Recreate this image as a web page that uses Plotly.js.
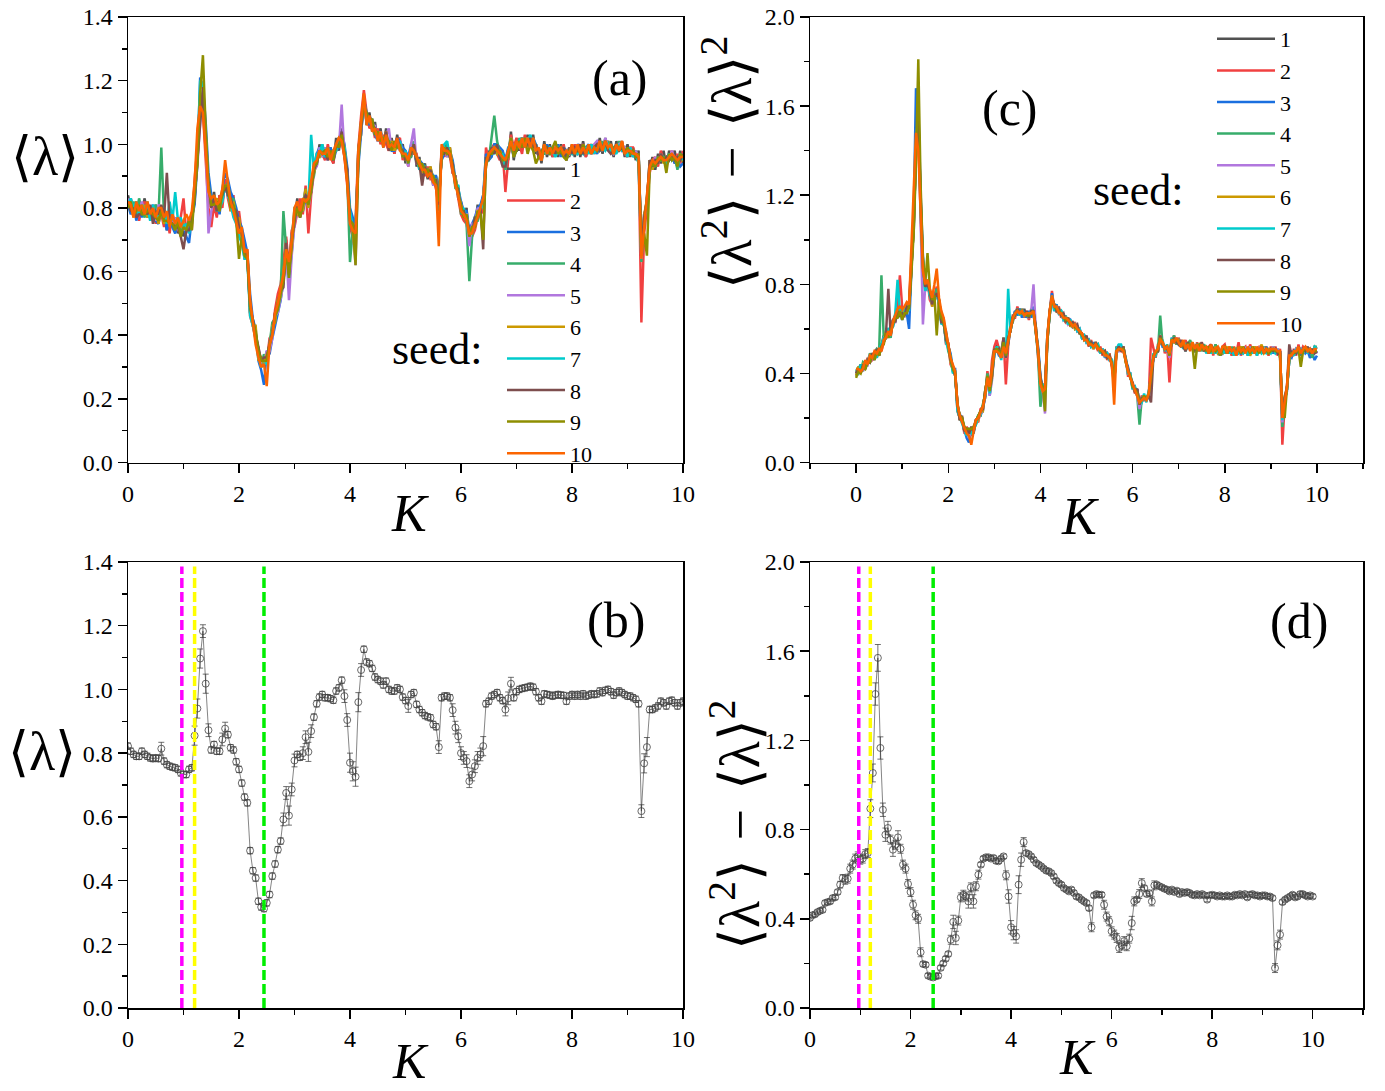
<!DOCTYPE html>
<html>
<head>
<meta charset="utf-8">
<script src="https://cdn.plot.ly/plotly-3.0.1.min.js"></script>
<style>html,body{margin:0;padding:0;background:#fff}#chart{width:1385px;height:1091px}</style>
</head>
<body>
<div id="chart"></div>
<script>
// ---------------- DATA ----------------
const K = [
0,0.05,0.1,0.15,0.2,0.25,0.3,0.35,0.4,0.45,0.5,0.55,0.6,0.65,0.7,0.75,0.8,0.85,0.9,0.95,
1,1.05,1.1,1.15,1.2,1.25,1.3,1.35,1.4,1.45,1.5,1.55,1.6,1.65,1.7,1.75,1.8,1.85,1.9,1.95,
2,2.05,2.1,2.15,2.2,2.25,2.3,2.35,2.4,2.45,2.5,2.55,2.6,2.65,2.7,2.75,2.8,2.85,2.9,2.95,
3,3.05,3.1,3.15,3.2,3.25,3.3,3.35,3.4,3.45,3.5,3.55,3.6,3.65,3.7,3.75,3.8,3.85,3.9,3.95,
4,4.05,4.1,4.15,4.2,4.25,4.3,4.35,4.4,4.45,4.5,4.55,4.6,4.65,4.7,4.75,4.8,4.85,4.9,4.95,
5,5.05,5.1,5.15,5.2,5.25,5.3,5.35,5.4,5.45,5.5,5.55,5.6,5.65,5.7,5.75,5.8,5.85,5.9,5.95,
6,6.05,6.1,6.15,6.2,6.25,6.3,6.35,6.4,6.45,6.5,6.55,6.6,6.65,6.7,6.75,6.8,6.85,6.9,6.95,
7,7.05,7.1,7.15,7.2,7.25,7.3,7.35,7.4,7.45,7.5,7.55,7.6,7.65,7.7,7.75,7.8,7.85,7.9,7.95,
8,8.05,8.1,8.15,8.2,8.25,8.3,8.35,8.4,8.45,8.5,8.55,8.6,8.65,8.7,8.75,8.8,8.85,8.9,8.95,
9,9.05,9.1,9.15,9.2,9.25,9.3,9.35,9.4,9.45,9.5,9.55,9.6,9.65,9.7,9.75,9.8,9.85,9.9,9.95,
10];

const seedNames = ['1','2','3','4','5','6','7','8','9','10'];

// panel (a): <lambda> for each seed
const lamSeed1 = [
0.84,0.80,0.78,0.80,0.82,0.79,0.83,0.77,0.80,0.76,0.81,0.77,0.80,0.79,0.73,0.78,0.74,0.77,0.72,0.75,
0.71,0.75,0.73,0.78,0.82,0.97,1.13,1.16,0.98,0.89,0.80,0.85,0.78,0.84,0.82,0.89,0.84,0.84,0.78,0.79,
0.73,0.72,0.64,0.66,0.47,0.45,0.39,0.36,0.30,0.33,0.31,0.38,0.40,0.47,0.48,0.55,0.57,0.70,0.58,0.72,
0.76,0.83,0.77,0.83,0.82,0.84,0.85,0.94,0.93,1.00,0.96,0.99,0.95,0.99,0.94,1.02,0.98,1.05,0.96,0.92,
0.74,0.77,0.70,0.99,1.03,1.15,1.06,1.10,1.04,1.07,1.01,1.05,0.99,1.05,0.98,1.02,0.97,1.03,0.98,1.00,
0.94,0.97,0.96,1.01,0.93,0.96,0.90,0.94,0.89,0.93,0.87,0.90,0.85,0.95,1.00,0.96,0.99,0.91,0.90,0.83,
0.82,0.77,0.80,0.69,0.75,0.74,0.81,0.78,0.84,0.93,0.98,0.96,1.00,0.97,0.99,0.95,0.96,0.95,1.04,0.95,
1.01,0.98,1.02,0.99,1.03,0.99,1.03,0.97,0.99,0.94,1.01,0.96,1.00,0.96,1.00,0.96,1.00,0.96,0.98,0.96,
1.00,0.96,1.00,0.96,1.01,0.96,1.00,0.97,1.00,0.97,1.02,0.97,1.02,0.98,1.01,0.96,1.01,0.98,1.01,0.96,
1.00,0.96,0.99,0.95,0.98,0.66,0.75,0.84,0.92,0.96,0.92,0.97,0.94,0.98,0.93,0.98,0.95,0.98,0.93,0.98,
0.94];
const lamSeed2 = [
0.80,0.83,0.79,0.81,0.76,0.80,0.82,0.78,0.77,0.80,0.75,0.79,0.78,0.74,0.78,0.72,0.79,0.73,0.73,0.77,
0.83,0.72,0.77,0.73,0.89,0.99,1.15,1.10,0.95,0.80,0.74,0.81,0.77,0.84,0.80,0.89,0.83,0.79,0.84,0.75,
0.79,0.71,0.65,0.67,0.46,0.43,0.38,0.34,0.32,0.31,0.31,0.39,0.40,0.48,0.53,0.56,0.63,0.71,0.61,0.73,
0.74,0.79,0.83,0.78,0.87,0.72,0.84,0.91,0.94,0.99,0.97,0.95,1.00,0.96,0.94,1.00,1.02,1.01,0.96,0.87,
0.74,0.71,0.76,0.99,1.09,1.17,1.10,1.05,1.06,1.02,1.05,1.00,1.03,1.00,0.98,1.01,0.97,1.01,1.02,0.95,
0.98,0.93,0.99,0.97,0.97,0.92,0.93,0.90,0.93,0.89,0.89,0.86,0.80,0.99,0.96,0.99,0.96,0.91,0.90,0.83,
0.78,0.76,0.75,0.70,0.71,0.73,0.77,0.78,0.79,0.99,0.95,0.99,1.00,0.97,0.95,0.98,0.85,0.95,1.03,0.99,
1.02,1.00,0.97,1.03,0.99,1.02,0.98,0.99,0.96,0.95,1.00,0.97,0.99,0.96,1.00,0.98,0.97,1.00,0.95,0.99,
0.97,1.00,0.97,0.99,1.00,0.96,0.99,1.00,0.97,1.00,1.01,0.98,1.00,1.01,0.98,0.97,1.00,0.98,1.01,0.97,
0.96,0.99,0.99,0.96,0.97,0.44,0.72,0.80,0.91,0.95,0.96,0.93,0.98,0.95,0.96,0.95,0.98,0.94,0.97,0.94,
0.98];
const lamSeed3 = [
0.81,0.78,0.81,0.76,0.80,0.77,0.81,0.78,0.79,0.81,0.76,0.75,0.79,0.79,0.73,0.77,0.74,0.72,0.75,0.72,
0.75,0.71,0.69,0.77,0.81,0.94,1.21,1.18,1.07,0.91,0.84,0.81,0.82,0.78,0.86,0.91,0.89,0.85,0.83,0.80,
0.76,0.74,0.70,0.66,0.53,0.45,0.42,0.32,0.29,0.244,0.35,0.34,0.39,0.43,0.48,0.51,0.57,0.65,0.59,0.66,
0.76,0.81,0.80,0.79,0.83,0.82,0.85,0.93,0.97,0.99,0.97,0.96,0.96,0.99,0.95,0.98,0.99,1.04,1.00,0.93,
0.80,0.77,0.74,0.93,1.04,1.14,1.10,1.06,1.08,1.03,1.01,1.04,1.00,1.01,1.01,0.98,0.98,1.02,1.01,0.99,
0.98,0.96,1.00,1.00,0.94,0.95,0.94,0.93,0.90,0.92,0.90,0.90,0.84,0.95,0.97,0.99,0.98,0.95,0.89,0.86,
0.82,0.79,0.79,0.73,0.75,0.77,0.80,0.81,0.84,0.97,0.95,0.96,1.00,1.00,0.99,0.98,0.95,0.99,1.00,0.96,
0.98,1.01,1.02,0.99,1.02,0.99,1.02,1.00,0.96,0.98,0.97,1.00,0.97,0.99,0.97,1.00,0.96,0.99,0.98,0.97,
0.99,0.97,1.00,0.99,0.97,0.99,1.00,0.97,0.99,0.97,1.00,0.98,1.01,0.99,1.00,0.97,1.00,0.98,1.00,0.97,
0.99,0.97,0.98,0.96,0.97,0.68,0.78,0.81,0.95,0.92,0.95,0.94,0.97,0.95,0.96,0.95,0.97,0.94,0.95,0.93,
0.94];
const lamSeed4 = [
0.82,0.79,0.82,0.78,0.83,0.79,0.77,0.82,0.78,0.79,0.81,0.78,0.99,0.77,0.78,0.75,0.78,0.74,0.77,0.73,
0.74,0.73,0.76,0.75,0.87,0.95,1.11,1.17,1.03,0.85,0.83,0.83,0.81,0.80,0.85,0.86,0.88,0.82,0.83,0.77,
0.73,0.72,0.65,0.66,0.47,0.44,0.40,0.35,0.31,0.34,0.32,0.37,0.44,0.45,0.51,0.53,0.79,0.67,0.63,0.69,
0.80,0.80,0.79,0.81,0.86,0.80,0.88,0.90,0.96,0.96,1.00,0.97,0.98,0.96,0.98,0.99,1.02,1.02,0.99,0.90,
0.63,0.73,0.70,0.98,1.06,1.13,1.07,1.08,1.05,1.05,1.03,1.04,1.00,1.03,0.99,1.01,0.98,1.01,0.99,0.98,
0.95,0.96,0.96,1.01,0.94,0.95,0.92,0.93,0.91,0.92,0.89,0.89,0.79,0.98,0.97,1.00,0.96,0.94,0.86,0.87,
0.78,0.79,0.75,0.57,0.71,0.76,0.76,0.80,0.80,0.95,0.95,1.03,1.09,1.01,0.97,0.97,0.92,0.98,1.02,0.98,
0.98,1.02,0.99,1.01,1.00,1.02,0.99,1.00,0.96,0.97,0.97,0.99,0.98,0.99,0.97,0.99,0.98,0.99,0.95,0.99,
0.97,0.99,0.97,0.99,0.98,0.99,0.97,1.00,0.98,1.00,0.98,1.01,0.98,1.01,0.98,0.99,0.98,1.01,0.98,0.99,
0.97,0.98,0.97,0.98,0.94,0.63,0.76,0.83,0.92,0.95,0.93,0.96,0.95,0.96,0.94,0.97,0.95,0.96,0.92,0.97,
0.96];
const lamSeed5 = [
0.83,0.80,0.80,0.79,0.79,0.82,0.78,0.81,0.77,0.80,0.76,0.81,0.80,0.78,0.77,0.76,0.75,0.77,0.73,0.76,
0.73,0.74,0.74,0.76,0.84,0.93,1.07,1.16,1.01,0.72,0.79,0.83,0.80,0.81,0.82,0.87,0.84,0.82,0.78,0.79,
0.72,0.71,0.64,0.64,0.49,0.43,0.39,0.36,0.30,0.31,0.35,0.35,0.39,0.46,0.47,0.51,0.56,0.67,0.51,0.65,
0.75,0.79,0.78,0.80,0.85,0.80,0.85,0.92,0.93,0.99,0.96,0.99,0.95,0.98,0.96,1.00,0.99,1.125,0.97,0.91,
0.75,0.74,0.62,0.96,1.05,1.13,1.07,1.09,1.05,1.06,1.01,1.04,1.00,1.03,1.05,0.98,1.01,0.99,1.01,0.97,
0.97,0.93,1.00,1.05,0.94,0.94,0.91,0.93,0.90,0.92,0.87,0.89,0.82,0.96,0.99,0.96,0.98,0.92,0.89,0.84,
0.81,0.78,0.78,0.68,0.75,0.75,0.80,0.79,0.83,0.94,0.97,0.97,0.99,0.98,0.98,0.95,0.95,0.96,1.02,0.97,
1.00,0.99,1.02,0.99,1.02,1.00,1.01,0.98,0.99,0.96,1.00,0.97,0.99,0.97,1.00,0.97,0.99,0.97,0.98,0.97,
0.99,0.97,1.00,0.98,1.00,0.97,0.99,0.98,1.00,1.01,0.99,0.98,1.02,0.99,0.98,0.97,0.99,1.00,0.98,0.99,
0.97,0.99,0.96,0.98,0.95,0.64,0.77,0.82,0.94,0.93,0.96,0.94,0.97,0.95,0.96,0.95,0.98,0.95,0.96,0.95,
0.97];
const lamSeed6 = [
0.81,0.81,0.77,0.80,0.79,0.78,0.81,0.77,0.80,0.76,0.79,0.75,0.80,0.75,0.77,0.76,0.75,0.74,0.74,0.74,
0.75,0.74,0.75,0.76,0.87,0.94,1.13,1.14,1.03,0.87,0.82,0.82,0.83,0.79,0.86,0.87,0.87,0.79,0.82,0.76,
0.77,0.70,0.67,0.65,0.50,0.43,0.43,0.32,0.33,0.31,0.34,0.36,0.43,0.44,0.51,0.52,0.60,0.67,0.61,0.67,
0.79,0.78,0.80,0.79,0.86,0.80,0.88,0.91,0.96,0.96,0.99,0.96,0.99,0.96,0.97,0.98,1.02,1.01,0.99,0.89,
0.78,0.73,0.64,0.97,1.05,1.14,1.08,1.09,1.06,1.05,1.02,1.03,1.01,1.04,0.99,1.01,0.98,1.01,0.99,0.98,
0.95,0.96,0.97,1.00,0.95,0.95,0.91,0.93,0.90,0.93,0.88,0.89,0.81,0.96,0.99,0.97,0.99,0.93,0.89,0.84,
0.81,0.77,0.78,0.71,0.74,0.74,0.79,0.79,0.83,0.93,0.97,0.97,0.99,0.97,0.98,0.95,0.95,0.96,1.02,0.96,
1.00,0.99,1.01,0.99,1.02,1.00,1.02,0.98,0.98,0.95,0.99,0.97,0.99,0.97,0.99,0.97,0.99,0.97,0.97,0.97,
0.99,0.97,0.99,0.97,1.00,0.97,0.99,0.98,0.99,0.98,1.00,0.98,1.01,0.99,1.00,0.97,1.00,0.98,1.00,0.97,
0.99,0.97,0.98,0.96,0.97,0.66,0.78,0.82,0.95,0.92,0.95,0.94,0.97,0.94,0.96,0.95,0.97,0.95,0.96,0.95,
0.95];
const lamSeed7 = [
0.81,0.83,0.80,0.82,0.78,0.81,0.79,0.80,0.76,0.81,0.77,0.78,0.79,0.80,0.75,0.82,0.76,0.85,0.76,0.77,
0.74,0.75,0.72,0.76,0.84,0.97,1.20,1.19,1.02,0.88,0.81,0.84,0.79,0.80,0.82,0.87,0.84,0.81,0.77,0.75,
0.71,0.69,0.64,0.64,0.46,0.43,0.39,0.33,0.30,0.31,0.31,0.37,0.42,0.46,0.48,0.53,0.57,0.68,0.58,0.71,
0.78,0.81,0.78,0.82,0.84,0.81,1.03,0.92,0.97,0.97,1.00,0.96,0.99,0.96,0.98,0.98,1.01,1.01,0.99,0.90,
0.79,0.74,0.75,0.95,1.06,1.11,1.09,1.07,1.07,1.03,1.04,1.01,1.02,1.01,1.01,0.99,1.00,0.99,1.01,0.96,
0.98,0.94,0.99,0.98,0.96,0.92,0.94,0.91,0.92,0.90,0.90,0.87,0.83,0.96,1.00,1.01,0.96,0.94,0.87,0.87,
0.79,0.80,0.76,0.72,0.72,0.77,0.77,0.80,0.81,0.96,0.95,0.98,0.97,1.00,0.96,0.97,0.93,0.98,1.01,0.97,
0.98,1.01,1.02,0.99,1.01,1.03,0.99,1.00,0.97,0.98,0.99,0.97,0.99,0.98,0.96,0.98,0.99,0.97,0.96,0.98,
0.97,0.99,0.97,0.98,0.97,0.99,0.97,1.00,0.97,0.99,0.98,0.99,0.98,1.00,0.98,0.98,0.97,1.00,0.98,0.98,
0.96,0.99,0.96,0.97,0.94,0.65,0.76,0.82,0.92,0.94,0.93,0.96,0.95,0.96,0.93,0.97,0.95,0.96,0.93,0.97,
0.95];
const lamSeed8 = [
0.82,0.79,0.80,0.77,0.78,0.78,0.79,0.78,0.81,0.75,0.79,0.78,0.81,0.77,0.91,0.76,0.75,0.74,0.74,0.71,
0.67,0.73,0.73,0.76,0.83,0.95,1.09,1.18,1.00,0.88,0.80,0.83,0.79,0.82,0.84,0.87,0.84,0.83,0.80,0.79,
0.74,0.72,0.66,0.65,0.49,0.45,0.41,0.36,0.32,0.33,0.33,0.37,0.41,0.47,0.50,0.54,0.55,0.69,0.59,0.70,
0.76,0.81,0.77,0.82,0.84,0.83,0.86,0.92,0.94,0.98,0.97,0.98,0.95,0.98,0.95,1.00,0.99,1.04,0.97,0.92,
0.76,0.75,0.72,0.96,1.05,1.13,1.08,1.09,1.06,1.05,1.02,1.03,1.00,1.04,0.98,1.00,0.99,1.02,0.99,0.98,
0.95,0.96,0.97,1.00,0.94,0.94,0.87,0.93,0.90,0.92,0.88,0.89,0.81,0.97,0.97,0.99,0.96,0.94,0.87,0.86,
0.79,0.79,0.76,0.73,0.72,0.77,0.77,0.80,0.67,0.96,0.95,0.99,0.97,1.00,0.96,0.93,0.93,0.98,1.00,0.98,
0.98,1.01,0.99,1.01,1.00,1.02,0.99,1.00,0.96,0.98,0.98,0.99,0.97,0.99,0.97,0.99,0.97,0.99,0.95,0.99,
0.97,0.99,0.98,1.00,0.97,0.98,0.99,0.97,0.99,1.00,0.98,0.99,1.01,0.98,0.97,0.98,1.00,0.98,0.99,0.97,
0.99,0.97,0.98,0.96,0.97,0.67,0.77,0.82,0.95,0.93,0.95,0.94,0.97,0.95,0.96,0.95,0.97,0.95,0.96,0.95,
0.97];
const lamSeed9 = [
0.80,0.82,0.78,0.79,0.81,0.78,0.78,0.79,0.79,0.78,0.77,0.76,0.79,0.76,0.76,0.75,0.75,0.73,0.76,0.71,
0.74,0.73,0.76,0.73,0.84,0.94,1.16,1.28,1.05,0.87,0.81,0.81,0.82,0.79,0.85,0.87,0.87,0.80,0.81,0.76,
0.64,0.71,0.65,0.64,0.49,0.44,0.41,0.35,0.32,0.32,0.32,0.37,0.40,0.46,0.48,0.53,0.57,0.67,0.58,0.69,
0.77,0.80,0.77,0.81,0.83,0.81,0.85,0.93,0.94,0.98,0.97,0.98,0.96,0.98,0.95,1.00,0.99,1.03,0.97,0.89,
0.76,0.75,0.62,0.94,1.07,1.12,1.10,1.07,1.08,1.03,1.04,1.01,1.02,1.02,1.01,0.98,1.01,0.99,1.00,0.96,
0.97,0.94,0.99,0.98,0.96,0.93,0.94,0.91,0.92,0.90,0.90,0.87,0.82,0.96,0.99,0.97,0.98,0.92,0.89,0.84,
0.81,0.77,0.78,0.71,0.74,0.74,0.79,0.78,0.70,0.94,0.97,0.97,0.99,0.98,0.98,0.95,0.95,0.96,1.02,0.96,
0.98,1.01,0.99,1.02,0.97,1.00,0.98,0.94,0.96,0.97,1.00,0.98,0.97,0.99,1.01,0.97,0.98,0.96,0.95,0.98,
0.99,0.97,0.99,0.97,1.00,0.97,0.99,0.97,0.99,0.98,1.00,0.98,1.01,0.99,1.00,0.97,1.00,0.98,1.00,0.97,
0.99,0.97,0.98,0.96,0.97,0.65,0.72,0.65,0.92,0.94,0.93,0.96,0.95,0.96,0.91,0.97,0.95,0.96,0.93,0.97,
0.96];
const lamSeed10 = [
0.82,0.81,0.77,0.82,0.79,0.81,0.78,0.82,0.78,0.80,0.77,0.80,0.80,0.77,0.79,0.74,0.78,0.75,0.77,0.74,
0.76,0.78,0.76,0.79,0.88,1.05,1.12,1.10,0.98,0.85,0.83,0.84,0.81,0.82,0.86,0.95,0.88,0.82,0.79,0.75,
0.72,0.74,0.66,0.67,0.51,0.44,0.37,0.33,0.30,0.31,0.24,0.37,0.40,0.47,0.50,0.55,0.59,0.67,0.63,0.70,
0.80,0.82,0.79,0.83,0.82,0.83,0.88,0.94,0.95,0.98,0.97,0.97,0.99,0.95,0.98,1.00,1.02,1.01,0.96,0.88,
0.75,0.73,0.72,0.98,1.08,1.16,1.06,1.09,1.04,1.05,1.01,1.04,0.99,1.03,0.99,1.00,0.99,1.02,0.98,0.97,
0.97,0.95,0.99,0.98,0.96,0.94,0.92,0.92,0.90,0.91,0.88,0.87,0.68,1.00,0.98,0.98,0.97,0.92,0.87,0.84,
0.79,0.78,0.76,0.72,0.72,0.75,0.77,0.80,0.83,0.94,0.97,0.98,0.99,0.98,0.97,0.96,0.95,0.98,1.01,0.98,
1.01,0.99,1.02,0.99,1.02,0.99,1.02,0.98,0.99,0.95,1.00,0.97,0.99,0.97,0.99,0.98,0.99,0.97,0.98,0.97,
1.00,0.97,1.00,0.97,0.99,0.97,1.00,0.97,0.99,0.98,1.01,0.98,1.01,0.99,1.00,0.97,1.00,0.98,1.01,0.97,
0.98,0.98,0.97,0.97,0.96,0.64,0.75,0.84,0.93,0.95,0.94,0.95,0.96,0.95,0.95,0.96,0.97,0.96,0.95,0.96,
0.96];

// panel (c): <lambda^2> - <lambda>^2 for each seed
const varSeed1 = [
0.40,0.42,0.44,0.41,0.45,0.44,0.47,0.49,0.46,0.51,0.48,0.52,0.57,0.56,0.59,0.58,0.63,0.66,0.65,0.70,
0.66,0.67,0.71,0.68,0.87,1.07,1.38,1.55,1.19,0.91,0.77,0.81,0.75,0.73,0.72,0.77,0.73,0.64,0.63,0.55,
0.53,0.46,0.43,0.39,0.27,0.19,0.20,0.14,0.15,0.12,0.16,0.13,0.19,0.20,0.23,0.23,0.32,0.37,0.33,0.39,
0.48,0.53,0.49,0.50,0.52,0.48,0.54,0.61,0.63,0.68,0.67,0.69,0.66,0.69,0.65,0.67,0.66,0.69,0.58,0.51,
0.38,0.33,0.33,0.54,0.67,0.73,0.71,0.68,0.69,0.66,0.66,0.63,0.65,0.61,0.63,0.60,0.61,0.58,0.58,0.55,
0.56,0.53,0.54,0.51,0.54,0.51,0.51,0.49,0.50,0.47,0.48,0.44,0.37,0.49,0.52,0.50,0.52,0.45,0.42,0.38,
0.35,0.32,0.32,0.26,0.29,0.29,0.29,0.30,0.39,0.47,0.50,0.50,0.57,0.53,0.52,0.51,0.49,0.54,0.56,0.54,
0.55,0.52,0.54,0.51,0.54,0.51,0.54,0.50,0.53,0.51,0.53,0.50,0.52,0.49,0.52,0.49,0.52,0.49,0.50,0.49,
0.52,0.49,0.51,0.50,0.51,0.49,0.51,0.49,0.51,0.50,0.51,0.50,0.51,0.50,0.51,0.50,0.52,0.49,0.51,0.49,
0.51,0.50,0.51,0.49,0.50,0.19,0.28,0.33,0.46,0.50,0.48,0.51,0.50,0.51,0.49,0.52,0.50,0.51,0.49,0.51,
0.49];
const varSeed2 = [
0.41,0.40,0.43,0.44,0.42,0.47,0.45,0.46,0.50,0.47,0.52,0.50,0.54,0.57,0.60,0.58,0.64,0.66,0.69,0.84,
0.70,0.66,0.69,0.72,0.91,1.10,1.45,1.50,1.10,0.85,0.81,0.82,0.73,0.71,0.75,0.79,0.69,0.63,0.65,0.53,
0.54,0.44,0.42,0.41,0.23,0.20,0.20,0.13,0.16,0.14,0.12,0.16,0.19,0.18,0.24,0.25,0.29,0.41,0.33,0.46,
0.52,0.55,0.51,0.50,0.56,0.35,0.52,0.62,0.65,0.65,0.70,0.66,0.69,0.65,0.68,0.64,0.69,0.66,0.61,0.47,
0.34,0.35,0.33,0.57,0.68,0.77,0.69,0.68,0.70,0.65,0.67,0.63,0.64,0.62,0.61,0.63,0.59,0.59,0.57,0.56,
0.56,0.52,0.55,0.51,0.53,0.50,0.52,0.48,0.50,0.46,0.49,0.43,0.35,0.52,0.51,0.50,0.52,0.47,0.39,0.39,
0.35,0.31,0.33,0.26,0.30,0.28,0.29,0.29,0.56,0.51,0.47,0.53,0.54,0.55,0.49,0.53,0.36,0.53,0.57,0.53,
0.56,0.52,0.52,0.55,0.51,0.54,0.51,0.50,0.54,0.50,0.54,0.51,0.50,0.52,0.53,0.48,0.53,0.50,0.48,0.52,
0.53,0.49,0.52,0.48,0.52,0.49,0.54,0.48,0.51,0.52,0.48,0.53,0.50,0.51,0.48,0.52,0.52,0.49,0.52,0.48,
0.52,0.49,0.52,0.48,0.51,0.08,0.26,0.34,0.49,0.47,0.51,0.48,0.53,0.48,0.52,0.51,0.51,0.50,0.49,0.52,
0.51];
const varSeed3 = [
0.39,0.42,0.41,0.44,0.42,0.45,0.46,0.47,0.47,0.50,0.49,0.53,0.54,0.59,0.56,0.60,0.61,0.65,0.66,0.69,
0.64,0.68,0.67,0.60,0.86,1.11,1.68,1.60,1.21,0.93,0.79,0.80,0.76,0.73,0.73,0.78,0.72,0.67,0.62,0.59,
0.52,0.49,0.42,0.42,0.24,0.22,0.18,0.15,0.11,0.09,0.15,0.14,0.17,0.21,0.21,0.24,0.29,0.38,0.30,0.40,
0.49,0.51,0.48,0.48,0.52,0.49,0.53,0.60,0.64,0.68,0.66,0.69,0.65,0.68,0.65,0.68,0.65,0.70,0.59,0.52,
0.39,0.33,0.34,0.54,0.67,0.76,0.69,0.71,0.67,0.68,0.65,0.65,0.63,0.64,0.61,0.62,0.60,0.60,0.57,0.57,
0.54,0.55,0.52,0.54,0.52,0.52,0.49,0.51,0.47,0.49,0.46,0.46,0.38,0.49,0.53,0.50,0.52,0.46,0.43,0.38,
0.35,0.32,0.33,0.27,0.29,0.29,0.28,0.30,0.40,0.46,0.50,0.50,0.56,0.52,0.52,0.50,0.49,0.54,0.55,0.54,
0.55,0.52,0.54,0.50,0.54,0.51,0.53,0.50,0.53,0.50,0.53,0.50,0.52,0.49,0.52,0.49,0.52,0.50,0.50,0.49,
0.52,0.49,0.51,0.49,0.51,0.48,0.51,0.49,0.50,0.50,0.51,0.50,0.51,0.49,0.51,0.50,0.51,0.49,0.52,0.49,
0.51,0.49,0.51,0.49,0.50,0.20,0.29,0.32,0.48,0.47,0.50,0.49,0.52,0.48,0.51,0.49,0.50,0.47,0.49,0.46,
0.48];
const varSeed4 = [
0.41,0.43,0.41,0.45,0.44,0.45,0.49,0.47,0.48,0.51,0.50,0.84,0.56,0.58,0.59,0.56,0.64,0.63,0.69,0.66,
0.67,0.67,0.70,0.69,0.91,1.03,1.40,1.56,1.15,0.91,0.78,0.82,0.75,0.72,0.73,0.78,0.71,0.65,0.62,0.58,
0.50,0.47,0.41,0.40,0.25,0.21,0.19,0.16,0.13,0.15,0.14,0.15,0.17,0.21,0.21,0.26,0.30,0.40,0.31,0.41,
0.51,0.50,0.52,0.47,0.56,0.48,0.56,0.59,0.65,0.66,0.69,0.66,0.69,0.66,0.67,0.65,0.68,0.67,0.59,0.48,
0.25,0.34,0.31,0.57,0.66,0.75,0.69,0.70,0.67,0.68,0.64,0.66,0.62,0.64,0.61,0.62,0.59,0.60,0.56,0.57,
0.54,0.55,0.52,0.53,0.52,0.53,0.49,0.51,0.48,0.49,0.46,0.46,0.36,0.52,0.50,0.52,0.50,0.47,0.40,0.40,
0.33,0.34,0.30,0.17,0.29,0.29,0.29,0.31,0.39,0.47,0.50,0.50,0.66,0.53,0.52,0.51,0.49,0.54,0.57,0.53,
0.55,0.52,0.54,0.50,0.53,0.55,0.51,0.50,0.53,0.52,0.50,0.53,0.51,0.49,0.52,0.50,0.53,0.50,0.48,0.52,
0.50,0.51,0.49,0.52,0.49,0.51,0.50,0.52,0.49,0.51,0.49,0.52,0.49,0.52,0.49,0.51,0.50,0.52,0.49,0.51,
0.49,0.52,0.49,0.51,0.48,0.16,0.27,0.33,0.46,0.50,0.48,0.51,0.50,0.51,0.49,0.52,0.50,0.51,0.47,0.52,
0.52];
const varSeed5 = [
0.40,0.41,0.43,0.42,0.45,0.44,0.48,0.46,0.49,0.48,0.51,0.51,0.56,0.57,0.58,0.57,0.63,0.63,0.68,0.67,
0.67,0.66,0.70,0.69,0.90,1.04,1.41,1.58,1.16,0.62,0.79,0.79,0.76,0.70,0.74,0.75,0.72,0.63,0.63,0.55,
0.53,0.45,0.43,0.39,0.26,0.19,0.20,0.14,0.14,0.11,0.15,0.14,0.19,0.19,0.22,0.23,0.31,0.37,0.30,0.37,
0.50,0.50,0.51,0.47,0.55,0.47,0.56,0.59,0.65,0.66,0.69,0.66,0.68,0.66,0.67,0.65,0.68,0.80,0.60,0.49,
0.37,0.32,0.22,0.56,0.65,0.75,0.68,0.70,0.67,0.67,0.64,0.65,0.62,0.63,0.61,0.62,0.59,0.60,0.56,0.57,
0.54,0.55,0.52,0.53,0.52,0.52,0.49,0.51,0.48,0.49,0.46,0.46,0.36,0.51,0.50,0.52,0.50,0.47,0.40,0.40,
0.33,0.34,0.30,0.24,0.29,0.29,0.29,0.30,0.39,0.47,0.49,0.50,0.57,0.53,0.52,0.51,0.47,0.56,0.54,0.56,
0.53,0.54,0.52,0.53,0.52,0.53,0.51,0.52,0.51,0.53,0.51,0.52,0.50,0.51,0.50,0.51,0.50,0.51,0.48,0.51,
0.50,0.51,0.49,0.51,0.49,0.51,0.49,0.51,0.49,0.52,0.49,0.52,0.49,0.52,0.49,0.52,0.50,0.51,0.49,0.51,
0.49,0.52,0.49,0.51,0.48,0.18,0.28,0.33,0.46,0.50,0.48,0.51,0.50,0.51,0.49,0.52,0.50,0.51,0.49,0.51,
0.49];
const varSeed6 = [
0.39,0.43,0.41,0.44,0.43,0.45,0.46,0.49,0.47,0.50,0.49,0.53,0.54,0.59,0.57,0.58,0.62,0.66,0.66,0.69,
0.66,0.69,0.68,0.71,0.87,1.06,1.42,1.56,1.17,0.88,0.79,0.80,0.77,0.70,0.74,0.76,0.72,0.63,0.63,0.55,
0.53,0.45,0.43,0.39,0.26,0.19,0.20,0.14,0.15,0.13,0.15,0.14,0.19,0.19,0.23,0.23,0.32,0.38,0.32,0.38,
0.51,0.50,0.51,0.47,0.55,0.47,0.56,0.59,0.65,0.66,0.69,0.67,0.68,0.66,0.67,0.65,0.68,0.67,0.61,0.49,
0.37,0.33,0.33,0.54,0.68,0.73,0.71,0.68,0.69,0.66,0.66,0.63,0.65,0.61,0.63,0.60,0.61,0.58,0.58,0.55,
0.56,0.53,0.54,0.51,0.54,0.51,0.51,0.49,0.50,0.47,0.48,0.44,0.37,0.49,0.52,0.50,0.52,0.45,0.42,0.38,
0.35,0.32,0.32,0.26,0.29,0.29,0.29,0.30,0.39,0.47,0.50,0.50,0.57,0.53,0.52,0.51,0.49,0.54,0.56,0.54,
0.55,0.52,0.54,0.51,0.54,0.51,0.54,0.50,0.53,0.51,0.53,0.50,0.52,0.49,0.52,0.49,0.52,0.49,0.50,0.49,
0.50,0.52,0.49,0.51,0.48,0.51,0.50,0.52,0.49,0.50,0.51,0.48,0.50,0.52,0.49,0.50,0.53,0.49,0.50,0.51,
0.50,0.51,0.50,0.50,0.47,0.21,0.30,0.33,0.47,0.49,0.49,0.50,0.51,0.50,0.50,0.51,0.51,0.50,0.50,0.50,
0.50];
const varSeed7 = [
0.41,0.40,0.44,0.42,0.45,0.46,0.45,0.48,0.49,0.47,0.51,0.53,0.56,0.56,0.60,0.60,0.61,0.67,0.82,0.68,
0.65,0.68,0.70,0.68,0.89,1.08,1.45,1.55,1.14,0.88,0.77,0.81,0.75,0.72,0.74,0.75,0.72,0.62,0.63,0.54,
0.51,0.48,0.40,0.41,0.23,0.20,0.18,0.14,0.12,0.14,0.13,0.16,0.17,0.21,0.22,0.25,0.30,0.39,0.31,0.40,
0.49,0.52,0.50,0.46,0.55,0.47,0.78,0.59,0.65,0.66,0.69,0.66,0.68,0.66,0.67,0.65,0.68,0.67,0.60,0.49,
0.35,0.35,0.31,0.57,0.65,0.75,0.68,0.70,0.67,0.68,0.64,0.65,0.62,0.64,0.61,0.62,0.59,0.60,0.56,0.57,
0.54,0.55,0.52,0.53,0.52,0.53,0.49,0.51,0.48,0.49,0.46,0.46,0.36,0.51,0.53,0.53,0.50,0.47,0.40,0.40,
0.33,0.34,0.30,0.28,0.27,0.31,0.27,0.32,0.37,0.49,0.48,0.52,0.54,0.55,0.50,0.53,0.48,0.56,0.54,0.55,
0.53,0.54,0.51,0.53,0.52,0.52,0.51,0.52,0.50,0.52,0.51,0.52,0.49,0.51,0.49,0.51,0.49,0.51,0.48,0.51,
0.49,0.51,0.49,0.51,0.48,0.51,0.49,0.50,0.49,0.51,0.48,0.51,0.49,0.51,0.48,0.51,0.49,0.50,0.49,0.50,
0.49,0.51,0.49,0.50,0.48,0.19,0.28,0.33,0.46,0.50,0.48,0.51,0.49,0.51,0.49,0.52,0.49,0.51,0.49,0.52,
0.51];
const varSeed8 = [
0.40,0.42,0.40,0.44,0.42,0.46,0.45,0.49,0.47,0.51,0.48,0.52,0.54,0.58,0.78,0.57,0.64,0.63,0.68,0.66,
0.67,0.66,0.70,0.69,0.87,1.06,1.40,1.57,1.18,0.88,0.79,0.80,0.77,0.71,0.74,0.76,0.73,0.63,0.63,0.55,
0.53,0.46,0.43,0.39,0.26,0.19,0.21,0.14,0.15,0.13,0.16,0.14,0.19,0.20,0.23,0.24,0.32,0.38,0.33,0.39,
0.51,0.50,0.51,0.47,0.56,0.47,0.56,0.59,0.66,0.66,0.69,0.67,0.68,0.66,0.68,0.65,0.68,0.68,0.61,0.49,
0.38,0.33,0.34,0.55,0.68,0.74,0.71,0.68,0.69,0.66,0.67,0.63,0.65,0.62,0.63,0.61,0.62,0.58,0.58,0.55,
0.57,0.53,0.54,0.52,0.54,0.51,0.51,0.49,0.50,0.47,0.48,0.44,0.38,0.50,0.52,0.50,0.52,0.46,0.42,0.38,
0.36,0.32,0.33,0.26,0.29,0.29,0.29,0.30,0.27,0.47,0.50,0.50,0.57,0.53,0.52,0.51,0.49,0.54,0.56,0.54,
0.53,0.55,0.52,0.50,0.54,0.51,0.52,0.50,0.53,0.51,0.54,0.50,0.52,0.49,0.53,0.51,0.50,0.52,0.48,0.51,
0.52,0.49,0.51,0.50,0.51,0.49,0.52,0.49,0.51,0.50,0.51,0.50,0.51,0.50,0.51,0.50,0.52,0.49,0.51,0.49,
0.51,0.50,0.51,0.49,0.50,0.20,0.29,0.34,0.53,0.48,0.50,0.49,0.52,0.49,0.51,0.50,0.52,0.49,0.51,0.49,
0.50];
const varSeed9 = [
0.38,0.41,0.40,0.43,0.42,0.45,0.45,0.48,0.46,0.50,0.48,0.52,0.53,0.58,0.56,0.59,0.61,0.65,0.65,0.68,
0.64,0.67,0.67,0.70,0.85,1.03,1.35,1.81,1.25,0.92,0.80,0.94,0.78,0.73,0.75,0.57,0.73,0.65,0.63,0.57,
0.52,0.47,0.42,0.40,0.26,0.21,0.20,0.16,0.15,0.15,0.15,0.16,0.19,0.21,0.23,0.25,0.31,0.39,0.32,0.40,
0.50,0.51,0.50,0.48,0.54,0.48,0.55,0.60,0.64,0.67,0.68,0.67,0.67,0.67,0.66,0.66,0.67,0.68,0.59,0.50,
0.36,0.34,0.23,0.55,0.66,0.74,0.70,0.69,0.68,0.67,0.65,0.64,0.64,0.62,0.62,0.61,0.60,0.59,0.57,0.56,
0.55,0.54,0.53,0.52,0.53,0.52,0.50,0.50,0.49,0.48,0.47,0.45,0.36,0.50,0.51,0.51,0.51,0.46,0.41,0.39,
0.34,0.33,0.31,0.27,0.28,0.30,0.28,0.31,0.38,0.48,0.49,0.51,0.56,0.54,0.51,0.52,0.48,0.55,0.55,0.55,
0.54,0.52,0.54,0.51,0.53,0.53,0.52,0.42,0.52,0.53,0.51,0.52,0.50,0.52,0.50,0.51,0.50,0.52,0.48,0.51,
0.52,0.49,0.51,0.50,0.51,0.49,0.51,0.49,0.52,0.50,0.51,0.49,0.52,0.50,0.51,0.49,0.52,0.50,0.51,0.49,
0.50,0.51,0.50,0.50,0.49,0.22,0.20,0.33,0.47,0.49,0.49,0.50,0.51,0.43,0.50,0.51,0.51,0.50,0.50,0.50,
0.50];
const varSeed10 = [
0.42,0.42,0.41,0.42,0.46,0.44,0.48,0.47,0.50,0.49,0.51,0.50,0.55,0.56,0.59,0.57,0.63,0.66,0.69,0.70,
0.69,0.70,0.72,0.71,0.95,1.20,1.48,1.40,1.10,0.86,0.80,0.82,0.78,0.74,0.80,0.87,0.74,0.68,0.65,0.58,
0.53,0.47,0.44,0.41,0.26,0.21,0.18,0.15,0.13,0.12,0.08,0.14,0.19,0.20,0.23,0.25,0.30,0.38,0.34,0.41,
0.50,0.50,0.49,0.47,0.52,0.49,0.54,0.59,0.65,0.67,0.68,0.67,0.68,0.66,0.67,0.67,0.67,0.68,0.58,0.50,
0.35,0.32,0.33,0.57,0.68,0.75,0.70,0.70,0.67,0.67,0.65,0.65,0.64,0.63,0.61,0.62,0.60,0.59,0.58,0.55,
0.55,0.53,0.53,0.52,0.53,0.51,0.51,0.50,0.48,0.48,0.47,0.44,0.26,0.50,0.51,0.51,0.50,0.46,0.41,0.38,
0.35,0.32,0.30,0.27,0.28,0.29,0.28,0.31,0.40,0.47,0.50,0.51,0.55,0.54,0.51,0.52,0.49,0.55,0.54,0.56,
0.54,0.52,0.55,0.51,0.53,0.50,0.54,0.51,0.53,0.50,0.53,0.51,0.52,0.49,0.53,0.50,0.51,0.52,0.49,0.52,
0.52,0.49,0.52,0.50,0.51,0.48,0.52,0.50,0.51,0.49,0.52,0.50,0.51,0.49,0.52,0.50,0.52,0.49,0.51,0.50,
0.51,0.51,0.51,0.50,0.50,0.20,0.27,0.34,0.48,0.48,0.50,0.50,0.52,0.49,0.51,0.52,0.50,0.51,0.49,0.51,
0.51];

// panel (b): seed-averaged <lambda> with error bars
const meanLambda = [
0.822,0.806,0.796,0.79,0.79,0.806,0.796,0.79,0.785,0.783,0.785,0.783,0.814,0.775,0.764,0.759,0.756,0.754,0.749,0.738,
0.733,0.733,0.749,0.754,0.855,0.94,1.097,1.183,1.018,0.872,0.81,0.827,0.806,0.806,0.843,0.877,0.858,0.817,0.81,0.773,
0.749,0.706,0.662,0.644,0.494,0.431,0.408,0.335,0.317,0.312,0.33,0.356,0.414,0.452,0.497,0.524,0.592,0.675,0.604,0.686,
0.777,0.796,0.787,0.8,0.85,0.804,0.869,0.913,0.955,0.976,0.984,0.974,0.974,0.971,0.966,0.995,1.005,1.029,0.979,0.904,
0.77,0.743,0.726,0.96,1.061,1.126,1.086,1.081,1.066,1.039,1.031,1.026,1.014,1.026,1.0,0.995,0.995,1.005,1.0,0.976,
0.965,0.948,0.984,0.99,0.953,0.937,0.927,0.918,0.914,0.911,0.89,0.883,0.819,0.974,0.979,0.979,0.974,0.935,0.88,0.853,
0.8,0.785,0.775,0.712,0.733,0.759,0.785,0.796,0.822,0.955,0.963,0.979,0.984,0.99,0.974,0.965,0.937,0.972,1.018,0.974,
0.993,1.0,1.003,1.005,1.007,1.01,1.007,0.993,0.974,0.963,0.986,0.984,0.982,0.979,0.982,0.984,0.982,0.981,0.963,0.979,
0.984,0.979,0.984,0.979,0.986,0.979,0.982,0.986,0.984,0.986,0.995,0.99,0.997,1.0,0.993,0.982,0.99,0.995,0.99,0.984,
0.979,0.979,0.974,0.969,0.955,0.618,0.768,0.819,0.937,0.937,0.942,0.948,0.963,0.958,0.948,0.963,0.966,0.958,0.948,0.958,
0.963];
const errLambda = [
0.01,0.01,0.01,0.01,0.01,0.01,0.01,0.01,0.01,0.01,0.01,0.01,0.02,0.01,0.01,0.01,0.01,0.01,0.01,0.01,
0.01,0.01,0.01,0.01,0.03,0.03,0.03,0.02,0.03,0.02,0.01,0.01,0.01,0.01,0.02,0.02,0.01,0.01,0.01,0.01,
0.01,0.01,0.01,0.01,0.01,0.01,0.01,0.01,0.01,0.01,0.01,0.01,0.01,0.01,0.01,0.01,0.02,0.02,0.03,0.02,
0.02,0.01,0.01,0.02,0.02,0.03,0.02,0.01,0.01,0.01,0.01,0.01,0.01,0.01,0.01,0.01,0.01,0.01,0.02,0.02,
0.03,0.03,0.03,0.03,0.02,0.01,0.01,0.01,0.01,0.01,0.01,0.01,0.01,0.01,0.01,0.01,0.01,0.01,0.01,0.01,
0.01,0.02,0.01,0.01,0.01,0.01,0.01,0.01,0.01,0.01,0.01,0.01,0.02,0.01,0.01,0.01,0.01,0.02,0.02,0.02,
0.02,0.02,0.02,0.02,0.02,0.02,0.02,0.02,0.03,0.01,0.01,0.01,0.01,0.01,0.01,0.01,0.02,0.02,0.02,0.01,
0.01,0.01,0.01,0.01,0.01,0.01,0.01,0.01,0.01,0.01,0.01,0.01,0.01,0.01,0.01,0.01,0.01,0.01,0.01,0.01,
0.01,0.01,0.01,0.01,0.01,0.01,0.01,0.01,0.01,0.01,0.01,0.01,0.01,0.01,0.01,0.01,0.01,0.01,0.01,0.01,
0.01,0.01,0.01,0.01,0.01,0.02,0.03,0.03,0.01,0.01,0.01,0.01,0.01,0.01,0.01,0.01,0.01,0.01,0.01,0.01,
0.01];

// panel (d): seed-averaged variance with error bars
const meanVar = [
0.404,0.416,0.42,0.43,0.436,0.44,0.471,0.475,0.478,0.493,0.496,0.52,0.553,0.583,0.575,0.58,0.625,0.643,0.67,0.68,
0.665,0.67,0.69,0.695,0.894,1.054,1.408,1.57,1.166,0.889,0.777,0.807,0.755,0.71,0.732,0.765,0.714,0.643,0.625,0.556,
0.52,0.463,0.416,0.4,0.25,0.197,0.194,0.145,0.14,0.137,0.142,0.145,0.18,0.2,0.221,0.242,0.306,0.386,0.314,0.392,
0.496,0.508,0.5,0.478,0.541,0.478,0.546,0.598,0.643,0.67,0.676,0.676,0.67,0.673,0.66,0.658,0.67,0.68,0.595,0.5,
0.362,0.336,0.321,0.553,0.665,0.744,0.695,0.69,0.68,0.665,0.65,0.643,0.635,0.625,0.616,0.613,0.605,0.59,0.571,0.56,
0.553,0.538,0.531,0.523,0.531,0.516,0.5,0.496,0.486,0.478,0.471,0.448,0.362,0.505,0.511,0.508,0.508,0.463,0.41,0.389,
0.344,0.329,0.314,0.269,0.281,0.3,0.277,0.311,0.381,0.478,0.486,0.511,0.56,0.538,0.511,0.515,0.478,0.55,0.553,0.546,
0.541,0.535,0.531,0.523,0.531,0.52,0.526,0.511,0.52,0.516,0.52,0.516,0.508,0.505,0.511,0.505,0.511,0.505,0.486,0.505,
0.508,0.505,0.5,0.505,0.5,0.5,0.505,0.5,0.5,0.508,0.505,0.511,0.505,0.511,0.496,0.508,0.511,0.505,0.505,0.5,
0.505,0.505,0.5,0.5,0.493,0.179,0.281,0.329,0.475,0.486,0.493,0.5,0.508,0.496,0.5,0.511,0.511,0.505,0.5,0.505,
0.5];
const errVar = [
0.01,0.01,0.01,0.01,0.01,0.01,0.01,0.01,0.01,0.01,0.01,0.01,0.015,0.015,0.02,0.02,0.02,0.02,0.02,0.02,
0.02,0.02,0.02,0.02,0.04,0.04,0.05,0.06,0.05,0.03,0.03,0.03,0.02,0.03,0.02,0.03,0.02,0.02,0.02,0.02,
0.02,0.02,0.02,0.02,0.02,0.01,0.01,0.01,0.01,0.01,0.01,0.01,0.01,0.01,0.01,0.01,0.02,0.03,0.03,0.02,
0.02,0.02,0.02,0.03,0.02,0.03,0.02,0.02,0.01,0.01,0.01,0.01,0.01,0.01,0.01,0.01,0.01,0.01,0.02,0.03,
0.03,0.03,0.03,0.04,0.03,0.02,0.01,0.01,0.01,0.01,0.01,0.01,0.01,0.01,0.01,0.01,0.01,0.01,0.01,0.01,
0.01,0.01,0.01,0.01,0.01,0.01,0.01,0.01,0.01,0.01,0.01,0.01,0.02,0.01,0.01,0.01,0.01,0.02,0.02,0.02,
0.02,0.02,0.02,0.02,0.02,0.02,0.02,0.02,0.03,0.02,0.01,0.02,0.02,0.01,0.01,0.01,0.02,0.02,0.01,0.01,
0.01,0.01,0.01,0.01,0.01,0.01,0.01,0.01,0.01,0.01,0.01,0.01,0.01,0.01,0.01,0.01,0.01,0.01,0.01,0.01,
0.01,0.01,0.01,0.01,0.01,0.01,0.01,0.01,0.01,0.01,0.01,0.01,0.01,0.01,0.01,0.01,0.01,0.01,0.01,0.01,
0.01,0.01,0.01,0.01,0.01,0.02,0.02,0.02,0.01,0.01,0.01,0.01,0.01,0.01,0.01,0.01,0.01,0.01,0.01,0.01,
0.01];

// vertical reference K values in (b) and (d)
const markerK = [0.97, 1.2, 2.45];

// ---------------- STYLE ----------------
const seedColors = ['#515151','#F14040','#1A6FDF','#37AD6B','#B177DE','#CC9900','#00CBCC','#7D4E4E','#8E8E00','#FB6501'];
const markerColors = ['#FF00FF','#FFFF00','#00EE00'];
const lamSeeds = [lamSeed1,lamSeed2,lamSeed3,lamSeed4,lamSeed5,lamSeed6,lamSeed7,lamSeed8,lamSeed9,lamSeed10];
const varSeeds = [varSeed1,varSeed2,varSeed3,varSeed4,varSeed5,varSeed6,varSeed7,varSeed8,varSeed9,varSeed10];

const W = 1385, H = 1091;
const px = v => v / W;
const py = v => 1 - v / H;

const traces = [];
lamSeeds.forEach((arr, i) => traces.push({
  x: K, y: arr, xaxis: 'x', yaxis: 'y', mode: 'lines', name: seedNames[i],
  line: {color: seedColors[i], width: 2.5}, legend: 'legend', hoverinfo: 'skip'
}));
varSeeds.forEach((arr, i) => traces.push({
  x: K, y: arr, xaxis: 'x3', yaxis: 'y3', mode: 'lines', name: seedNames[i],
  line: {color: seedColors[i], width: 2.5}, legend: 'legend2', hoverinfo: 'skip'
}));
traces.push({
  x: K, y: meanLambda, xaxis: 'x2', yaxis: 'y2', mode: 'lines+markers', showlegend: false,
  line: {color: '#333', width: 0.6},
  marker: {symbol: 'circle-open', size: 7, color: '#444', line: {width: 0.8}},
  error_y: {type: 'data', array: errLambda, visible: true, color: '#333', thickness: 0.7, width: 3}
});
traces.push({
  x: K, y: meanVar, xaxis: 'x4', yaxis: 'y4', mode: 'lines+markers', showlegend: false,
  line: {color: '#333', width: 0.6},
  marker: {symbol: 'circle-open', size: 7, color: '#444', line: {width: 0.8}},
  error_y: {type: 'data', array: errVar, visible: true, color: '#333', thickness: 0.7, width: 3}
});

const serif = 'Liberation Serif';
const tickFont = {family: serif, size: 24, color: 'black'};
const xL = [px(128), px(683)], xR = [px(810), px(1363)];
const yT = [py(462.5), py(17)], yB = [py(1008), py(562)];

function mainX(domain, anchor, range) {
  return {domain, anchor, range, tick0: 0, dtick: 2, ticks: 'outside', ticklen: 9, tickwidth: 1.5,
    tickcolor: 'black', showline: true, linecolor: 'black', linewidth: 1.5, mirror: true,
    showgrid: false, zeroline: false, tickfont: tickFont, fixedrange: true,
    minor: {ticks: 'outside', ticklen: 5, tickwidth: 1.5, tickcolor: 'black', dtick: 1, tick0: 0, showgrid: false}};
}
function topX(over, anchor, range) {
  return {overlaying: over, side: 'top', anchor, range, tick0: 0, dtick: 2, ticks: 'inside', ticklen: 9,
    tickwidth: 1.5, tickcolor: 'black', showline: false, showgrid: false, zeroline: false,
    showticklabels: false, fixedrange: true,
    minor: {ticks: 'inside', ticklen: 7, tickwidth: 1.5, tickcolor: 'black', dtick: 1, tick0: 0, showgrid: false}};
}
function mainY(domain, anchor, range, dt) {
  return {domain, anchor, range, tick0: 0, dtick: dt, tickformat: '.1f', ticks: 'outside', ticklen: 9,
    tickwidth: 1.5, tickcolor: 'black', showline: true, linecolor: 'black', linewidth: 1.5, mirror: true,
    showgrid: false, zeroline: false, tickfont: tickFont, fixedrange: true,
    minor: {ticks: 'outside', ticklen: 5, tickwidth: 1.5, tickcolor: 'black', dtick: dt / 2, tick0: 0, showgrid: false}};
}
function rightY(over, anchor, range, dt) {
  return {overlaying: over, side: 'right', anchor, range, tick0: 0, dtick: dt, ticks: 'inside', ticklen: 9,
    tickwidth: 1.5, tickcolor: 'black', showline: false, showgrid: false, zeroline: false,
    showticklabels: false, fixedrange: true,
    minor: {ticks: 'inside', ticklen: 5, tickwidth: 1.5, tickcolor: 'black', dtick: dt / 2, tick0: 0, showgrid: false}};
}

function ann(text, x, y, size, extra) {
  return Object.assign({text, x: px(x), y: py(y), xref: 'paper', yref: 'paper', showarrow: false,
    xanchor: 'center', yanchor: 'middle', font: {family: serif, size, color: 'black'}}, extra || {});
}
const varTitle = '⟨λ<sup>2</sup>⟩\u2004−\u2004⟨λ⟩<sup>2</sup>';
const annotations = [
  ann('(a)', 620, 78, 50), ann('(b)', 616, 620, 50), ann('(c)', 1010, 108, 50), ann('(d)', 1299, 621, 50),
  ann('seed:', 437, 350, 44), ann('seed:', 1138, 190, 44),
  ann('<i>K</i>', 410, 513, 52), ann('<i>K</i>', 410, 1061, 50),
  ann('<i>K</i>', 1080, 516, 52), ann('<i>K</i>', 1077, 1057, 50),
  ann('⟨λ⟩', 45, 157, 54), ann('⟨λ⟩', 42, 752, 54),
  ann(varTitle, 727, 163, 57, {textangle: -90}), ann(varTitle, 735, 825, 56, {textangle: -90})
];

const shapes = [];
markerK.forEach((k, i) => {
  [['x2', 'y2 domain'], ['x4', 'y4 domain']].forEach(([xr, yr]) => shapes.push({
    type: 'line', xref: xr, yref: yr, x0: k, x1: k, y0: 0, y1: 0.99,
    line: {color: markerColors[i], width: 3.5, dash: '10px,4px'}
  }));
});

const legendBase = {xanchor: 'left', yanchor: 'top', bgcolor: 'rgba(0,0,0,0)', borderwidth: 0,
  font: {family: serif, size: 22, color: 'black'}, itemwidth: 58, tracegroupgap: 0, itemclick: false, itemdoubleclick: false};

const layout = {
  width: W, height: H, margin: {l: 0, r: 0, t: 0, b: 0}, paper_bgcolor: 'white', plot_bgcolor: 'white',
  showlegend: true,
  xaxis: mainX(xL, 'y', [0, 10]), yaxis: mainY(yT, 'x', [0, 1.4], 0.2),
  xaxis2: mainX(xL, 'y2', [0, 10]), yaxis2: mainY(yB, 'x2', [0, 1.4], 0.2),
  xaxis3: mainX(xR, 'y3', [-1, 11]), yaxis3: mainY(yT, 'x3', [0, 2.0], 0.4),
  xaxis4: mainX(xR, 'y4', [0, 11]), yaxis4: mainY(yB, 'x4', [0, 2.0], 0.4),
  xaxis5: topX('x', 'y', [0, 10]), yaxis5: rightY('y', 'x', [0, 1.4], 0.2),
  xaxis6: topX('x2', 'y2', [0, 10]), yaxis6: rightY('y2', 'x2', [0, 1.4], 0.2),
  xaxis7: topX('x3', 'y3', [-1, 11]), yaxis7: rightY('y3', 'x3', [0, 2.0], 0.4),
  xaxis8: topX('x4', 'y4', [0, 11]), yaxis8: rightY('y4', 'x4', [0, 2.0], 0.4),
  legend: Object.assign({x: px(502), y: py(148)}, legendBase),
  legend2: Object.assign({x: px(1212), y: py(18)}, legendBase),
  annotations, shapes
};

Plotly.newPlot('chart', traces, layout, {displayModeBar: false, staticPlot: true});
</script>
</body>
</html>
